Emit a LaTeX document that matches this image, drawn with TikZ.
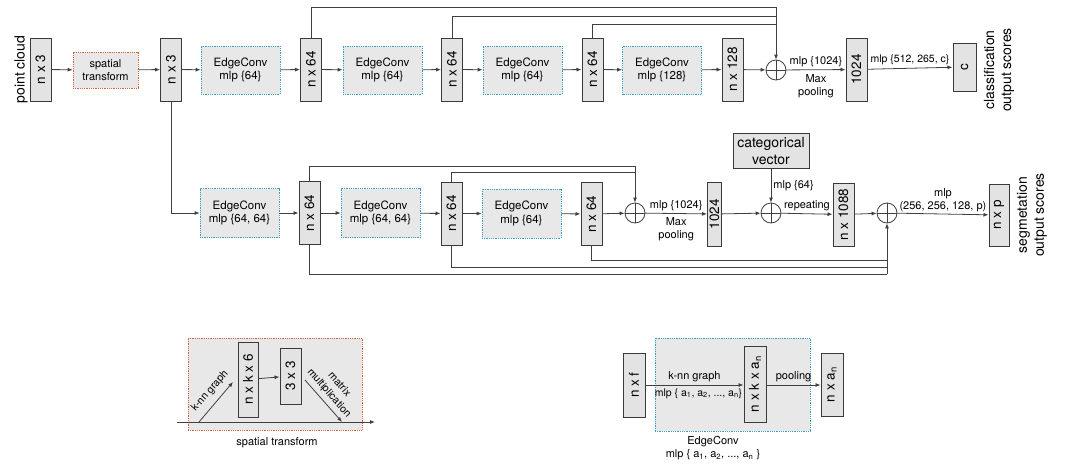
\documentclass[tikz,border=0pt]{standalone}
\usepackage{fontspec}
\setmainfont{TeX Gyre Heros}
\usetikzlibrary{arrows.meta}
\definecolor{boxfill}{HTML}{E3E3E3}
\definecolor{ecfill}{HTML}{E8E8E8}
\definecolor{boxline}{HTML}{3A3A3A}
\definecolor{lineclr}{HTML}{404040}
\definecolor{ecblue}{HTML}{3C9DC2}
\definecolor{stred}{HTML}{D0643C}
\begin{document}
\begin{tikzpicture}[x=1pt,y=-1pt,
  tensor/.style={draw=boxline, fill=boxfill, line width=1pt, rotate=90, inner sep=0pt,
    minimum width=63, minimum height=21, font=\fontsize{13.5}{15}\selectfont},
  econv/.style={draw=ecblue, densely dotted, line width=0.8pt, fill=ecfill,
    minimum width=79, minimum height=48, align=center, inner sep=0pt,
    font=\fontsize{11.5}{13.5}\selectfont},
  stbox/.style={econv, draw=stred},
  lbl/.style={font=\fontsize{11}{13}\selectfont, align=center, inner sep=1pt},
  side/.style={rotate=90, font=\fontsize{14}{17}\selectfont, align=center, inner sep=0pt},
  opl/.style={circle, draw=lineclr, line width=0.8pt, minimum size=20, inner sep=0pt},
  arr/.style={-{Latex[length=5pt,width=4pt]}, line width=0.8pt, draw=lineclr},
  ln/.style={line width=0.8pt, draw=lineclr}]
\useasboundingbox (0,0) rectangle (1069,474);

% ---------------- top row ----------------
\node[side] (pc) at (21,69.5) {point cloud};
\node[tensor] (t1) at (40.5,69.5) {n x 3};
\node[stbox, minimum width=65, minimum height=36, font=\fontsize{11}{13}\selectfont] (st) at (105.5,70) {spatial\\transform};
\node[tensor] (t2) at (171,69.5) {n x 3};
\node[econv] (e1) at (240.5,70) {EdgeConv\\mlp \{64\}};
\node[tensor] (t3) at (311,69.5) {n x 64};
\node[econv] (e2) at (382.5,70) {EdgeConv\\mlp \{64\}};
\node[tensor] (t4) at (452,69.5) {n x 64};
\node[econv] (e3) at (522.5,70) {EdgeConv\\mlp \{64\}};
\node[tensor] (t5) at (592.5,69.5) {n x 64};
\node[econv] (e4) at (662,70) {EdgeConv\\mlp \{128\}};
\node[tensor] (t6) at (732.5,69.5) {n x 128};
\node[opl] (o1) at (776,70) {};
\node[tensor] (t7) at (856.5,69.5) {1024};
\node[tensor, minimum width=48, minimum height=23] (tc) at (964.5,67) {c};
\node[side] (cls) at (999,70) {classification\\output scores};

\draw[arr] (t1) -- (st);
\draw[arr] (st) -- (t2);
\draw[arr] (t2) -- (e1);
\draw[arr] (e1) -- (t3);
\draw[arr] (t3) -- (e2);
\draw[arr] (e2) -- (t4);
\draw[arr] (t4) -- (e3);
\draw[arr] (e3) -- (t5);
\draw[arr] (t5) -- (e4);
\draw[arr] (e4) -- (t6);
\draw[arr] (t6) -- (o1);
\draw[arr] (o1) -- node[lbl, above=1pt] (l1) {mlp \{1024\}} node[lbl, below=3pt] (l2) {Max\\pooling} (t7);
\draw[arr] (t7) -- node[lbl, above=2pt, font=\fontsize{10.5}{12}\selectfont] (l3) {mlp \{512, 265, c\}} (tc);

\coordinate (k1) at (776,7);
\coordinate (k2) at (776,16);
\coordinate (k3) at (776,24);
\draw[ln] (t3.east) |- (k1);
\draw[ln] (t4.east) |- (k2);
\draw[ln] (t5.east) |- (k3);
\draw[arr] (k1) -- (o1.north);
\draw[ln] (o1.north) -- (o1.south) (o1.west) -- (o1.east);

% ---------------- bottom row ----------------
\node[econv, minimum height=49] (b1) at (239.5,213) {EdgeConv\\mlp \{64, 64\}};
\node[tensor] (u1) at (309.5,213) {n x 64};
\node[econv, minimum height=49] (b2) at (380.5,213) {EdgeConv\\mlp \{64, 64\}};
\node[tensor] (u2) at (451.5,213.5) {n x 64};
\node[econv, minimum height=49] (b3) at (521.5,213.5) {EdgeConv\\mlp \{64\}};
\node[tensor] (u3) at (591.5,214) {n x 64};
\node[opl] (o2) at (635,213) {};
\node[tensor, minimum width=64, minimum height=14] (u4) at (714.5,214) {1024};
\node[draw=boxline, fill=boxfill, line width=1pt, minimum width=76, minimum height=35,
  inner sep=0pt, align=center, font=\fontsize{14}{17}\selectfont] (cat) at (771,150.5) {categorical\\vector};
\node[opl] (o3) at (771,213) {};
\node[tensor] (u5) at (843.5,214.5) {n x 1088};
\node[opl] (o4) at (887,213) {};
\node[tensor, minimum width=62, minimum height=20] (u6) at (999,215) {n x p};
\node[side] (seg) at (1032,215) {segmetation\\output scores};

\draw[arr] (t2.west) |- (b1.west);
\draw[arr] (b1) -- (u1);
\draw[arr] (u1) -- (b2);
\draw[arr] (b2) -- (u2);
\draw[arr] (u2) -- (b3);
\draw[arr] (b3) -- (u3);
\draw[arr] (u3) -- (o2);
\draw[arr] (o2) -- node[lbl, above=1pt] (l4) {mlp \{1024\}} node[lbl, below=3pt] (l5) {Max\\pooling} (u4);
\draw[arr] (u4) -- (o3);
\draw[arr] (cat) -- node[lbl, right=1pt] (l6) {mlp \{64\}} (o3);
\draw[arr] (o3) -- node[lbl, above=1pt] (l7) {repeating} (u5);
\draw[arr] (u5) -- (o4);
\draw[arr] (o4) -- node[lbl, above=1pt] (l8) {mlp\\(256, 256, 128, p)} (u6);

\coordinate (m1) at (635,166);
\coordinate (m2) at (635,172);
\draw[ln] (u1.east) |- (m1);
\draw[ln] (u2.east) |- (m2);
\draw[arr] (m1) -- (o2.north);

\coordinate (q1) at (887,274);
\coordinate (q2) at (887,267);
\coordinate (q3) at (887,260);
\draw[ln] (u1.west) |- (q1);
\draw[ln] (u2.west) |- (q2);
\draw[ln] (u3.west) |- (q3);
\draw[arr] (q1) -- (o4.south);

\draw[ln] (o2.north) -- (o2.south) (o2.west) -- (o2.east);
\draw[ln] (o3.north) -- (o3.south) (o3.west) -- (o3.east);
\draw[ln] (o4.north) -- (o4.south) (o4.west) -- (o4.east);

% ---------------- spatial transform inset ----------------
\node[draw=stred, densely dotted, line width=0.8pt, fill=ecfill, minimum width=174,
  minimum height=92, inner sep=0pt] (stbg) at (275,384) {};
\coordinate (sa) at (177,422);
\coordinate (sb) at (375,422);
\draw[arr] (sa) -- (sb);
\node[tensor, minimum width=75, minimum height=20] (kk) at (248,379.5) {n x k x 6};
\node[tensor, minimum width=56, minimum height=21] (k3) at (290.5,376) {3 x 3};
\draw[arr] (kk) -- (k3);
\coordinate (ka) at (199,422);
\coordinate (kb) at (233,382);
\draw[arr] (ka) -- (kb);
\node[lbl, rotate=49, font=\fontsize{10.5}{12}\selectfont] (knn) at (210,391) {k-nn graph};
\coordinate (ma) at (305,380);
\coordinate (mb) at (342,422);
\draw[arr] (ma) -- (mb);
\node[lbl, rotate=-49, font=\fontsize{10.5}{13.5}\selectfont] (mm) at (334,389) {matrix\\multiplication};
\node[lbl] (stcap) at (277,443) {spatial transform};

% ---------------- EdgeConv inset ----------------
\node[draw=ecblue, densely dotted, line width=0.8pt, fill=ecfill, minimum width=155,
  minimum height=93, inner sep=0pt] (ecbg) at (732.5,384.5) {};
\node[tensor, minimum width=64, minimum height=22] (nf) at (634,385) {n x f};
\node[tensor, minimum width=76, minimum height=22] (nk) at (755,384) {n x k x a\textsubscript{n}};
\node[tensor, minimum width=63, minimum height=22] (na) at (832,384.5) {n x a\textsubscript{n}};
\draw[arr] (nf.south |- 0,385) -- node[lbl, above=2pt] (l9) {k-nn graph}
  node[lbl, below=2pt, font=\fontsize{10.5}{12}\selectfont, xshift=4pt] (l10) {mlp \{ a\textsubscript{1}, a\textsubscript{2}, ..., a\textsubscript{n}\}} (nk.north |- 0,385);
\draw[arr] (nk.south |- 0,385) -- node[lbl, above=2pt] (l11) {pooling} (na.north |- 0,385);
\node[lbl] (eccap) at (713,448) {EdgeConv\\mlp \{ a\textsubscript{1}, a\textsubscript{2}, ..., a\textsubscript{n} \}};
\end{tikzpicture}
\end{document}
